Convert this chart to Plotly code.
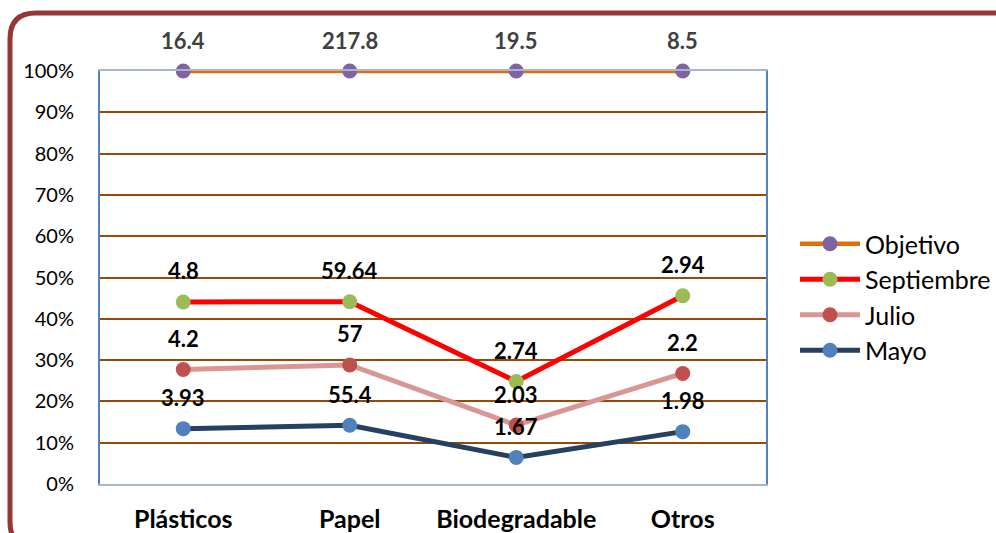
import plotly.graph_objects as go

# Monthly waste collected per category, plus the target (stacked to 100%)
categorias = ["Plásticos", "Papel", "Biodegradable", "Otros"]
mayo = [3.93, 55.4, 1.67, 1.98]
julio = [4.2, 57, 2.03, 2.2]
septiembre = [4.8, 59.64, 2.74, 2.94]
objetivo = [16.4, 217.8, 19.5, 8.5]

series = [
    ("Mayo", mayo, "#254061", "#4F81BD", "#000000"),
    ("Julio", julio, "#D99694", "#C0504D", "#000000"),
    ("Septiembre", septiembre, "#FF0000", "#9BBB59", "#000000"),
    ("Objetivo", objetivo, "#E46C0A", "#8064A2", "#404040"),
]

W, H = 996, 533
ML, MR, MT, MB = 100, 230, 71, 49
PW, PH = W - ML - MR, H - MT - MB

totals = [sum(v) for v in zip(mayo, julio, septiembre, objetivo)]

fig = go.Figure()
annotations = []
running = [0.0] * len(categorias)
for name, vals, lcol, mcol, tcol in series:
    running = [r + v for r, v in zip(running, vals)]
    frac = [r / t for r, t in zip(running, totals)]
    fig.add_trace(go.Scatter(
        x=categorias, y=frac, name=name, mode="lines+markers",
        line=dict(color=lcol, width=5 if name != "Objetivo" else 4.5),
        marker=dict(color=mcol, size=15),
        cliponaxis=False,
    ))
    for c, f, v in zip(categorias, frac, vals):
        annotations.append(dict(
            x=c, y=f, xref="x", yref="y", text=f"<b>{v:g}</b>",
            showarrow=False, yshift=31,
            font=dict(family="Lato", size=22, color=tcol),
        ))


def px_x(p):
    return (p - ML) / PW


def px_y(p):
    return 1 - (p - MT) / PH


# Rounded outer frame
r = 26
x0, y0, x1, y1 = 10, 13, 1010, 548
pts = [
    ("M", x1, y0), ("L", x0 + r, y0), ("Q", x0, y0, x0, y0 + r),
    ("L", x0, y1 - r), ("Q", x0, y1, x0 + r, y1), ("L", x1, y1),
]
path = ""
for seg in pts:
    cmd = seg[0]
    coords = seg[1:]
    s = []
    for i in range(0, len(coords), 2):
        s.append(f"{px_x(coords[i]):.5f},{px_y(coords[i + 1]):.5f}")
    path += cmd + " " + " ".join(s) + " "

fig.add_shape(type="path", path=path, xref="paper", yref="paper",
              line=dict(color="#953735", width=5), layer="above")

fig.update_layout(
    width=W, height=H,
    margin=dict(l=ML, r=MR, t=MT, b=MB, autoexpand=False),
    paper_bgcolor="white", plot_bgcolor="white",
    font=dict(family="Lato", color="#000000"),
    annotations=annotations,
    showlegend=True,
    legend=dict(
        traceorder="reversed", xref="container", yref="container",
        x=795 / W, y=1 - 221 / H, xanchor="left", yanchor="top",
        font=dict(family="Lato", size=25, color="#000000"),
        itemwidth=60, tracegroupgap=0, bgcolor="rgba(0,0,0,0)",
    ),
    xaxis=dict(
        type="category", range=[-0.5, 3.5], automargin=False,
        showline=True, linecolor="#A6B6CC", linewidth=2, mirror=True,
        showgrid=False, ticks="", ticklabelstandoff=12,
        tickfont=dict(family="Lato", size=25, color="#000000", weight="bold"),
    ),
    yaxis=dict(
        range=[0, 1], dtick=0.1, tickformat=".0%", automargin=False,
        showline=True, linecolor="#4F81BD", linewidth=2, mirror=True,
        showgrid=True, gridcolor="#984807", gridwidth=1.6,
        zeroline=False, ticks="", ticklabelstandoff=20,
        tickfont=dict(family="Lato", size=20, color="#000000"),
    ),
)

fig.write_html("out.html")
